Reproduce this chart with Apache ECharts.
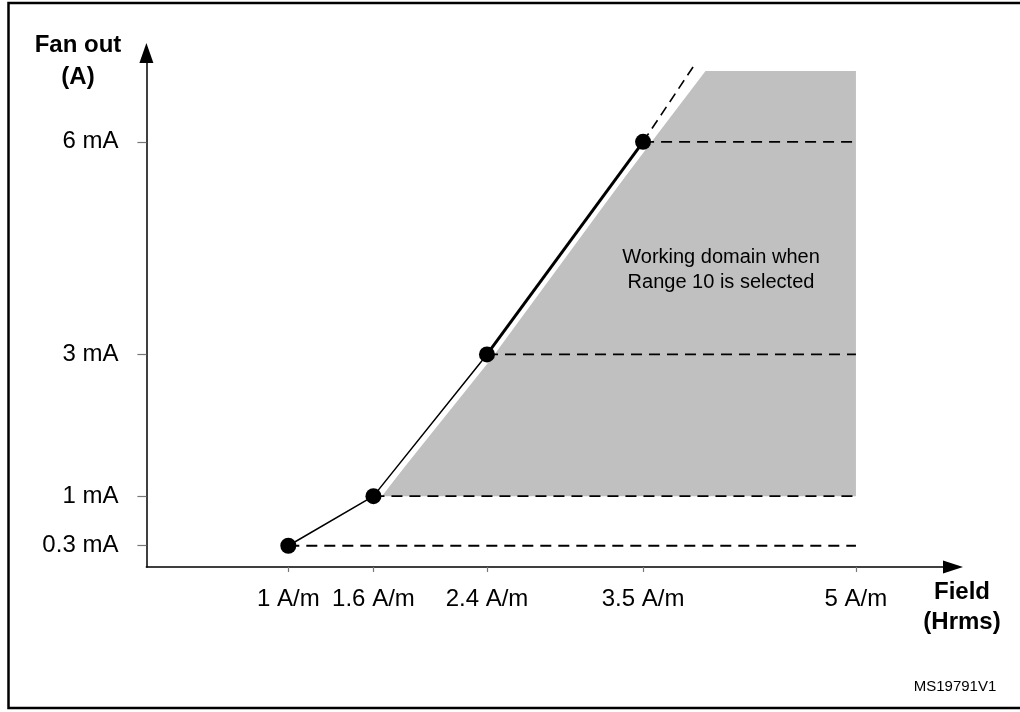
<!DOCTYPE html>
<html>
<head>
<meta charset="utf-8">
<title>Fan out vs Field</title>
<script src="https://cdn.jsdelivr.net/npm/echarts@6/dist/echarts.min.js"></script>
<style>
  html, body { margin: 0; padding: 0; background: #ffffff; }
  #chart { width: 1020px; height: 712px; }
</style>
</head>
<body>
<div id="chart"></div>
<script>
// Axis ticks and their labels
const xTicks = [1, 1.6, 2.4, 3.5, 5];
const xTickLabels = ['1 A/m', '1.6 A/m', '2.4 A/m', '3.5 A/m', '5 A/m'];
const yTicks = [0.3, 1, 3, 6];
const yTickLabels = ['0.3 mA', '1 mA', '3 mA', '6 mA'];

// Operating points: field (A/m) and fan out (mA)
const fieldPoints = [1, 1.6, 2.4, 3.5];
const fanOutPoints = [0.3, 1, 3, 6];

// Field value where the horizontal guides stop
const guideEnd = 5;
// Dashed continuation of the curve beyond 6 mA
const extensionEnd = [3.86, 7.08];
// Corners of the shaded working domain (field, fan out)
const domainCorners = [[1.66, 1], [3.94, 7], [5, 7], [5, 1]];

const FONT = '"Liberation Sans", Arial, sans-serif';

const pts = fieldPoints.map((x, i) => [x, fanOutPoints[i]]);

function labelFor(ticks, labels) {
  return v => {
    const i = ticks.findIndex(t => Math.abs(t - v) < 1e-6);
    return i >= 0 ? labels[i] : '';
  };
}

const guideSeries = pts.map(p => ({
  type: 'line',
  data: [p, [guideEnd, p[1]]],
  symbol: 'none',
  silent: true,
  z: 3,
  lineStyle: { color: '#000', width: 1.8, type: [11, 7] }
}));

const chart = echarts.init(document.getElementById('chart'), null, { renderer: 'canvas' });

chart.setOption({
  animation: false,
  backgroundColor: '#ffffff',
  grid: { left: 146.4, right: 67, top: 53, bottom: 145 },
  xAxis: {
    type: 'value',
    min: 0,
    max: 5.684,
    splitLine: { show: false },
    axisLine: {
      show: true,
      lineStyle: { color: '#000', width: 1.5 },
      symbol: ['none', 'triangle'],
      symbolSize: [13, 20]
    },
    axisTick: {
      show: true,
      customValues: xTicks,
      length: 5,
      lineStyle: { color: '#777', width: 1.2 }
    },
    axisLabel: {
      customValues: xTicks,
      formatter: labelFor(xTicks, xTickLabels),
      margin: 20,
      color: '#000',
      fontFamily: FONT,
      fontSize: 24
    }
  },
  yAxis: {
    type: 'value',
    min: 0,
    max: 7.254,
    splitLine: { show: false },
    axisLine: {
      show: true,
      lineStyle: { color: '#000', width: 1.5 },
      symbol: ['none', 'triangle'],
      symbolSize: [14, 20]
    },
    axisTick: {
      show: true,
      customValues: yTicks,
      length: 9,
      lineStyle: { color: '#777', width: 1.2 }
    },
    axisLabel: {
      customValues: yTicks,
      formatter: labelFor(yTicks, yTickLabels),
      margin: 28,
      color: '#000',
      fontFamily: FONT,
      fontSize: 24
    }
  },
  series: [
    // shaded working domain
    {
      type: 'custom',
      data: [0],
      silent: true,
      z: 1,
      renderItem: (params, api) => ({
        type: 'polygon',
        shape: { points: domainCorners.map(p => api.coord(p)) },
        style: { fill: '#c0c0c0' }
      })
    },
    // white margin separating the curve from the shaded domain
    {
      type: 'line',
      data: pts.slice(1).concat([extensionEnd]),
      symbol: 'none',
      silent: true,
      z: 2,
      lineStyle: { color: '#ffffff', width: 12, cap: 'butt' }
    },
    ...guideSeries,
    // dashed continuation
    {
      type: 'line',
      data: [pts[3], extensionEnd],
      symbol: 'none',
      silent: true,
      z: 4,
      lineStyle: { color: '#000', width: 1.6, type: [10, 6] }
    },
    // thin part of the curve
    {
      type: 'line',
      data: pts.slice(0, 3),
      symbol: 'none',
      silent: true,
      z: 5,
      lineStyle: { color: '#000', width: 1.5 }
    },
    // thick part of the curve
    {
      type: 'line',
      data: pts.slice(2, 4),
      symbol: 'none',
      silent: true,
      z: 5,
      lineStyle: { color: '#000', width: 3 }
    },
    // operating points
    {
      type: 'scatter',
      data: pts,
      symbol: 'circle',
      symbolSize: 16,
      silent: true,
      z: 6,
      itemStyle: { color: '#000', opacity: 1 }
    }
  ],
  graphic: [
    {
      type: 'rect',
      silent: true,
      shape: { x: 8.5, y: 3, width: 1100, height: 705 },
      style: { fill: 'none', stroke: '#000', lineWidth: 2.5 }
    },
    {
      type: 'text',
      x: 78, y: 61,
      style: {
        text: 'Fan out\n(A)',
        fontFamily: FONT, fontSize: 24, fontWeight: 'bold',
        fill: '#000', lineHeight: 32,
        textAlign: 'center', textVerticalAlign: 'middle'
      }
    },
    {
      type: 'text',
      x: 962, y: 607,
      style: {
        text: 'Field\n(Hrms)',
        fontFamily: FONT, fontSize: 24, fontWeight: 'bold',
        fill: '#000', lineHeight: 30,
        textAlign: 'center', textVerticalAlign: 'middle'
      }
    },
    {
      type: 'text',
      x: 721, y: 269.5,
      z: 10,
      style: {
        text: 'Working domain when\nRange 10 is selected',
        fontFamily: FONT, fontSize: 20,
        fill: '#000', lineHeight: 25,
        textAlign: 'center', textVerticalAlign: 'middle'
      }
    },
    {
      type: 'text',
      x: 955, y: 687,
      style: {
        text: 'MS19791V1',
        fontFamily: FONT, fontSize: 15,
        fill: '#000',
        textAlign: 'center', textVerticalAlign: 'middle'
      }
    }
  ]
});
</script>
</body>
</html>
